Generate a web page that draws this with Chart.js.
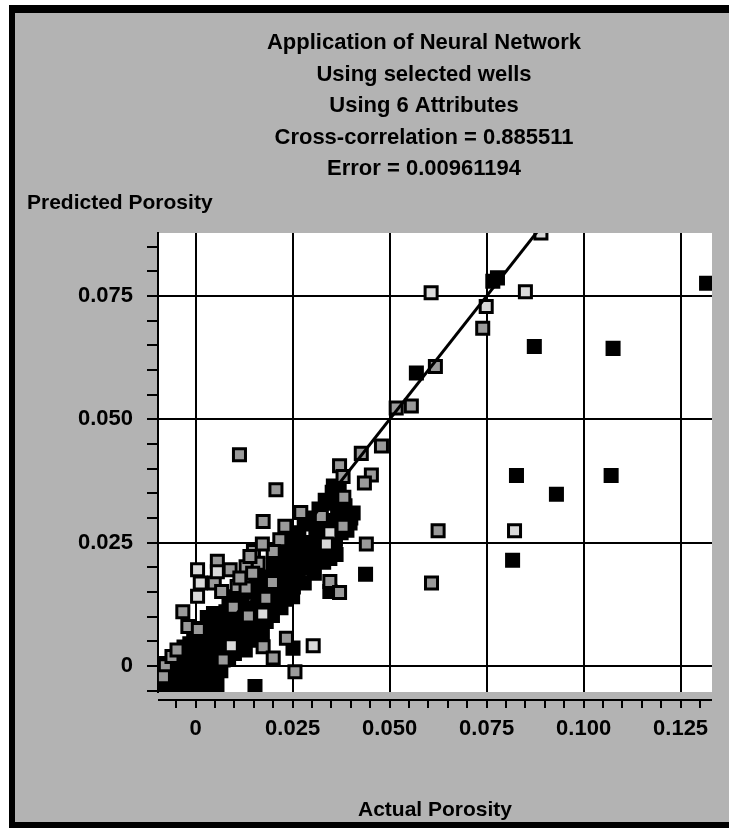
<!DOCTYPE html>
<html>
<head>
<meta charset="utf-8">
<script src="https://cdn.jsdelivr.net/npm/chart.js@4.4.1/dist/chart.umd.min.js"></script>
<style>
html,body{margin:0;padding:0;background:#fff;}
canvas{display:block;}
</style>
</head>
<body>
<canvas id="c" width="729" height="828"></canvas>
<script>
// ---- text ----
const titleLines = ['Application of Neural Network', 'Using selected wells', 'Using 6 Attributes', 'Cross-correlation = 0.885511', 'Error = 0.00961194'];
const xAxisTitle = 'Actual Porosity';
const yAxisTitle = 'Predicted Porosity';

// ---- axes ----
const xMin = -0.0097, xMax = 0.1331;
const yMin = -0.0053, yMax = 0.0878;
const majorStep = 0.025;   // labelled ticks + grid lines
const minorStep = 0.005;   // small tick marks

// ---- regression line (y = x) ----
const lineX = [-0.0055, 0.0890];
const lineY = [-0.0055, 0.0890];

// ---- black filled squares ----
const blackX = [0.1317,0.0766,0.0778,0.0873,0.1076,0.0569,0.0827,0.0930,0.1071,0.0817,0.0438,0.0346,0.0251,0.0153,0.0406,
 -0.0080,-0.0065,-0.0050,-0.0035,-0.0020,-0.0005,0.0010,0.0025,
 -0.0072,-0.0058,-0.0042,-0.0028,-0.0012,0.0004,0.0020,0.0036,0.0050,
 -0.0055,-0.0040,-0.0025,-0.0010,0.0006,0.0022,0.0040,0.0055,0.0068,
 -0.0030,-0.0015,0.0002,0.0018,0.0034,0.0050,0.0066,0.0082,0.0098,0.0112,0.0128,
 -0.0005,0.0012,0.0028,0.0044,0.0060,0.0076,0.0092,0.0108,0.0124,0.0140,
 0.0030,0.0046,0.0062,0.0078,0.0094,0.0110,0.0126,0.0142,0.0158,0.0172,
 0.0086,0.0102,0.0118,0.0134,0.0150,0.0166,0.0182,0.0198,
 0.0140,0.0156,0.0172,0.0188,0.0204,0.0220,
 0.0170,0.0186,0.0202,0.0218,0.0234,0.0250,0.0252,
 0.0200,0.0216,0.0232,0.0248,0.0264,0.0280,
 0.0225,0.0242,0.0258,0.0274,0.0290,0.0306,
 0.0250,0.0266,0.0282,0.0298,0.0314,0.0330,0.0346,0.0362,
 0.0280,0.0296,0.0312,0.0328,0.0344,0.0360,
 0.0318,0.0334,0.0350,0.0366,0.0382,0.0398,
 0.0352,0.0368,
 -0.0088,-0.0088,-0.0075,0.0055,0.0065,0.0085,0.0100,0.0120,0.0135,0.0150,0.0165,0.0180,0.0195,0.0210,0.0230,
 0.0240,0.0262,0.0290,0.0300,0.0320,0.0340,0.0360,0.0375,0.0390,0.0400,0.0385,0.0370,0.0355,
 0.0010,0.0040,0.0070,0.0100,0.0130,0.0160,0.0190,0.0220,0.0250,0.0280,0.0310,0.0340,0.0370];
const blackY = [0.0776,0.0780,0.0787,0.0648,0.0644,0.0594,0.0386,0.0348,0.0386,0.0214,0.0186,0.0151,0.0036,-0.0042,0.0310,
 -0.0040,-0.0042,-0.0038,-0.0042,-0.0036,-0.0040,-0.0035,-0.0038,
 -0.0020,-0.0012,-0.0020,-0.0010,-0.0018,-0.0008,-0.0015,-0.0006,-0.0018,
 0.0008,0.0015,0.0006,0.0018,0.0010,0.0022,0.0012,0.0028,0.0020,
 0.0038,0.0045,0.0036,0.0050,0.0042,0.0055,0.0046,0.0060,0.0052,0.0040,0.0032,
 0.0068,0.0076,0.0066,0.0082,0.0074,0.0088,0.0078,0.0068,0.0060,0.0052,
 0.0098,0.0106,0.0096,0.0110,0.0100,0.0092,0.0084,0.0076,0.0068,0.0060,
 0.0130,0.0140,0.0128,0.0118,0.0108,0.0098,0.0090,0.0102,
 0.0150,0.0162,0.0150,0.0140,0.0128,0.0118,
 0.0180,0.0172,0.0184,0.0168,0.0155,0.0140,0.0160,
 0.0205,0.0196,0.0210,0.0190,0.0178,0.0168,
 0.0228,0.0240,0.0225,0.0210,0.0198,0.0188,
 0.0258,0.0270,0.0250,0.0236,0.0222,0.0210,0.0218,0.0226,
 0.0288,0.0300,0.0278,0.0262,0.0248,0.0258,
 0.0318,0.0336,0.0330,0.0312,0.0300,0.0290,
 0.0352,0.0340,
 -0.0028,-0.0010,0.0005,-0.0040,-0.0010,0.0015,0.0025,0.0045,0.0065,0.0080,0.0085,0.0105,0.0120,0.0140,0.0135,
 0.0170,0.0195,0.0215,0.0205,0.0235,0.0228,0.0240,0.0270,0.0275,0.0300,0.0325,0.0355,0.0365,
 0.0060,0.0030,0.0065,0.0090,0.0110,0.0130,0.0160,0.0190,0.0215,0.0240,0.0265,0.0295,0.0290];

// ---- grey filled squares ----
const grayX = [0.0440,0.0625,0.0608,0.0346,0.0371,0.0234,0.0256,0.0556,0.0740,0.0618,0.0517,0.0479,0.0427,0.0371,0.0113,
 0.0453,0.0380,0.0207,0.0174,0.0435,0.0382,0.0271,0.0324,0.0380,0.0234,0.0217,0.0149,0.0161,0.0198,0.0056,
 0.0089,0.0130,0.0048,0.0067,0.0107,0.0130,0.0181,0.0097,0.0136,-0.0033,-0.0020,0.0007,0.0174,0.0200,-0.0078,
 -0.0083,-0.0061,-0.0048,0.0071,0.0200,0.0172,0.0230,0.0114,0.0147,0.0140];
const grayY = [0.0247,0.0274,0.0168,0.0171,0.0149,0.0056,-0.0012,0.0527,0.0685,0.0607,0.0523,0.0446,0.0431,0.0406,0.0428,
 0.0387,0.0384,0.0357,0.0293,0.0371,0.0342,0.0311,0.0303,0.0283,0.0279,0.0256,0.0232,0.0208,0.0169,0.0212,
 0.0195,0.0201,0.0168,0.0151,0.0161,0.0158,0.0137,0.0119,0.0101,0.0110,0.0080,0.0074,0.0039,0.0016,0.0000,
 -0.0022,0.0019,0.0032,0.0012,0.0232,0.0247,0.0283,0.0178,0.0188,0.0222];

// ---- light (white) filled squares ----
const lightX = [0.0822,0.0890,0.0749,0.0850,0.0607,0.0346,0.0337,0.0303,0.0005,0.0056,0.0012,0.0005,0.0173,0.0092];
const lightY = [0.0274,0.0878,0.0729,0.0759,0.0757,0.0270,0.0247,0.0041,0.0195,0.0191,0.0168,0.0141,0.0105,0.0041];

// ---- helpers ----
const pts = (xs, ys) => xs.map((x, i) => ({x: x, y: ys[i]}));
const isMajor = v => { const m = Math.round(v / minorStep); return m % Math.round(majorStep / minorStep) === 0; };
const fmt = v => { if (!isMajor(v)) return ''; const r = Math.round(v * 1000) / 1000; return r === 0 ? '0' : r.toFixed(3); };

const FONT = '"Liberation Sans", Arial, Helvetica, sans-serif';
Chart.defaults.font.family = FONT;
Chart.defaults.color = '#000';

const TITLE_CX = 424, TITLE_Y0 = 43, TITLE_STEP = 31.5;

const framePlugin = {
  id: 'frame',
  beforeDraw(chart) {
    const {ctx, width, height, chartArea: a} = chart;
    ctx.save();
    ctx.fillStyle = '#ffffff'; ctx.fillRect(0, 0, width, height);
    ctx.fillStyle = '#000000'; ctx.fillRect(9, 5, width - 9, height - 5);
    ctx.fillStyle = '#b3b3b3'; ctx.fillRect(15, 13, width - 15, height - 13 - 6);
    ctx.fillStyle = '#ffffff'; ctx.fillRect(a.left, a.top, a.right - a.left, a.bottom - a.top);
    ctx.restore();
  },
  afterDraw(chart) {
    const {ctx, chartArea: a} = chart;
    ctx.save();
    ctx.strokeStyle = '#000'; ctx.lineWidth = 2;
    ctx.beginPath(); ctx.moveTo(a.left, a.bottom + 8); ctx.lineTo(a.right, a.bottom + 8); ctx.stroke();
    ctx.fillStyle = '#000';
    ctx.font = 'bold 22px ' + FONT;
    ctx.textAlign = 'center'; ctx.textBaseline = 'middle';
    titleLines.forEach((t, i) => ctx.fillText(t, TITLE_CX, TITLE_Y0 + i * TITLE_STEP));
    ctx.font = 'bold 21px ' + FONT;
    ctx.textAlign = 'left';
    ctx.fillText(yAxisTitle, 27, a.top - 30);
    ctx.restore();
  }
};

const gridColor = c => (c.tick && isMajor(c.tick.value)) ? '#000' : 'rgba(0,0,0,0)';
const squareStyle = {pointStyle: 'rect', pointRadius: 8.5, pointHoverRadius: 8.5, borderWidth: 3, borderColor: '#000', clip: 0};

new Chart(document.getElementById('c'), {
  type: 'scatter',
  data: {
    datasets: [
      {type: 'line', data: pts(lineX, lineY), borderColor: '#000', borderWidth: 3, pointRadius: 0, fill: false, clip: 0},
      Object.assign({data: pts(lightX, lightY), backgroundColor: '#dadada'}, squareStyle),
      Object.assign({data: pts(grayX, grayY), backgroundColor: '#9a9a9a'}, squareStyle),
      Object.assign({data: pts(blackX, blackY), backgroundColor: '#000'}, squareStyle)
    ]
  },
  plugins: [framePlugin],
  options: {
    responsive: false,
    animation: false,
    devicePixelRatio: 1,
    events: [],
    layout: {padding: {left: 20, right: 17, top: 233, bottom: 0}},
    plugins: {
      legend: {display: false},
      tooltip: {enabled: false},
      title: {display: false}
    },
    scales: {
      x: {
        type: 'linear', min: xMin, max: xMax,
        afterFit(s) { s.height = 136; },
        border: {display: false},
        grid: {color: gridColor, lineWidth: 2, tickColor: '#000', tickWidth: 2, tickLength: 16, tickBorderDash: [0, 8, 8, 100]},
        ticks: {stepSize: minorStep, autoSkip: false, maxRotation: 0, minRotation: 0, includeBounds: false, padding: 8,
                color: '#000', font: {size: 22, weight: 'bold'}, callback: v => fmt(v)},
        title: {display: true, text: xAxisTitle, color: '#000', font: {size: 21, weight: 'bold'}, padding: {top: 0, bottom: 5}}
      },
      y: {
        type: 'linear', min: yMin, max: yMax,
        afterFit(s) { s.width = 138; },
        border: {display: true, color: '#000', width: 2},
        grid: {color: gridColor, lineWidth: 2, tickColor: '#000', tickWidth: 2, tickLength: 11},
        ticks: {stepSize: minorStep, autoSkip: false, includeBounds: false, padding: 14,
                color: '#000', font: {size: 22, weight: 'bold'}, callback: v => fmt(v)}
      }
    }
  }
});
</script>
</body>
</html>
